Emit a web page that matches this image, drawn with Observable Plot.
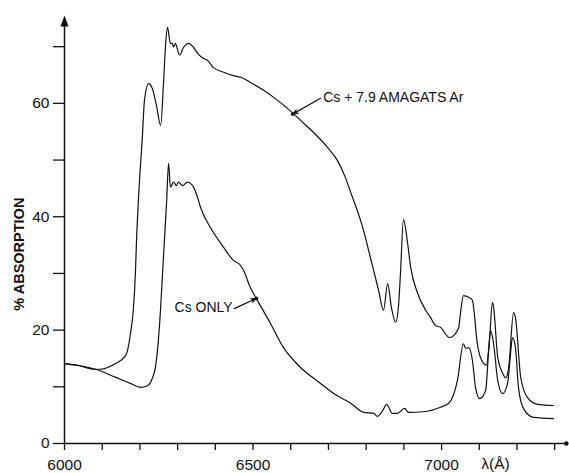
<!DOCTYPE html>
<html>
<head>
<meta charset="utf-8">
<script src="https://cdn.jsdelivr.net/npm/d3@7"></script>
<script src="https://cdn.jsdelivr.net/npm/@observablehq/plot@0.6"></script>
<style>
  html, body { margin: 0; padding: 0; background: #fff; }
  #chart { width: 569px; height: 473px; }
</style>
</head>
<body>
<div id="chart"></div>
<script>
// Cs only (lower curve)
const wavelengthCs = [6000, 6034, 6082, 6135, 6175, 6202, 6220, 6233, 6241, 6249, 6255, 6260, 6265, 6271, 6276, 6281, 6289, 6297, 6302, 6313, 6326, 6340, 6353, 6361, 6387, 6422, 6448, 6467, 6475, 6493, 6512, 6546, 6581, 6626, 6679, 6714, 6759, 6793, 6820, 6830, 6844, 6854, 6870, 6883, 6902, 6912, 6952, 6997, 7019, 7042, 7058, 7064, 7072, 7082, 7090, 7101, 7117, 7125, 7130, 7138, 7149, 7162, 7175, 7183, 7188, 7196, 7204, 7217, 7244, 7297];
const absorptionCs = [14.1, 13.8, 13.1, 11.7, 10.6, 9.9, 10.2, 11.5, 13.4, 18.2, 24.0, 30.0, 35.8, 42.9, 49.4, 45.2, 46.1, 45.5, 46.1, 45.5, 46.1, 45.5, 43.4, 41.6, 38.1, 34.6, 32.3, 31.4, 30.5, 27.5, 25.2, 21.2, 16.9, 13.4, 10.6, 8.8, 7.1, 5.5, 5.3, 4.8, 5.8, 6.9, 5.3, 5.3, 6.2, 5.5, 5.6, 6.4, 7.1, 11.1, 17.6, 16.8, 16.9, 14.6, 9.9, 7.9, 9.4, 16.4, 19.9, 17.6, 11.1, 8.8, 10.6, 15.9, 18.7, 16.9, 9.9, 6.2, 4.6, 4.4];

// Cs + 7.9 amagats Ar (upper curve)
const wavelengthAr = [6000, 6034, 6082, 6095, 6135, 6162, 6167, 6175, 6183, 6188, 6191, 6196, 6207, 6212, 6223, 6233, 6244, 6255, 6263, 6268, 6273, 6281, 6286, 6289, 6294, 6305, 6316, 6329, 6342, 6353, 6369, 6379, 6395, 6422, 6448, 6467, 6475, 6493, 6528, 6554, 6607, 6626, 6660, 6698, 6724, 6745, 6759, 6785, 6793, 6812, 6820, 6833, 6846, 6857, 6867, 6878, 6886, 6891, 6899, 6910, 6918, 6936, 6958, 6971, 6984, 6997, 7021, 7045, 7050, 7058, 7077, 7082, 7095, 7103, 7119, 7127, 7135, 7138, 7149, 7162, 7170, 7178, 7191, 7196, 7210, 7228, 7255, 7297];
const absorptionAr = [14.1, 13.8, 13.1, 13.1, 14.1, 15.5, 16.4, 19.4, 24.0, 30.0, 35.8, 42.9, 54.7, 60.5, 63.5, 62.6, 59.6, 56.1, 64.1, 70.2, 73.4, 70.6, 70.6, 69.9, 70.6, 68.5, 69.9, 70.6, 69.9, 68.8, 67.9, 67.6, 66.3, 65.5, 64.9, 64.6, 64.4, 63.7, 62.3, 61.1, 58.2, 57.0, 54.9, 52.2, 49.9, 46.9, 44.3, 39.4, 37.6, 32.6, 30.5, 27.0, 23.5, 28.2, 24.0, 21.4, 24.4, 30.0, 39.5, 35.3, 31.1, 26.6, 23.5, 22.2, 20.8, 20.5, 18.7, 20.3, 22.9, 26.1, 25.6, 25.2, 17.6, 15.2, 13.8, 18.2, 24.9, 24.0, 15.2, 12.4, 11.6, 13.4, 23.1, 22.2, 11.6, 8.1, 6.9, 6.7];

// Ticks
const xTicks = [6000, 6100, 6200, 6300, 6400, 6500, 6600, 6700, 6800, 6900, 7000, 7100, 7200, 7300];
const xTickLabels = [6000, 6500, 7000];
const yTicks = [0, 10, 20, 30, 40, 50, 60, 70];
const yTickLabels = [0, 20, 40, 60];

// Annotations
const seriesLabels = ["Cs + 7.9 AMAGATS Ar", "Cs ONLY"];
const labelAnchorX = [6686, 6446];
const labelAnchorY = [61.0, 23.9];
const arrowTipX = [6605, 6509];
const arrowTipY = [58.1, 25.6];
const arrowTailX = [6679, 6450];
const arrowTailY = [60.9, 23.8];

const cs = wavelengthCs.map((x, i) => ({x, y: absorptionCs[i]}));
const ar = wavelengthAr.map((x, i) => ({x, y: absorptionAr[i]}));
const notes = seriesLabels.map((t, i) => ({
  text: t, lx: labelAnchorX[i], ly: labelAnchorY[i],
  x1: arrowTailX[i], y1: arrowTailY[i], x2: arrowTipX[i], y2: arrowTipY[i]
}));

const yMax = 75.5, xMax = 7334;

const triangleUp = {
  draw(context, l, r) {
    context.moveTo(0, -l);
    context.lineTo(-r, 0);
    context.lineTo(r, 0);
    context.closePath();
  }
};

const plot = Plot.plot({
  width: 569,
  height: 473,
  marginLeft: 64,
  marginRight: 2,
  marginTop: 15,
  marginBottom: 30,
  style: {fontFamily: "'Liberation Sans', Arial, sans-serif", fontSize: "15.5px", color: "#111", background: "#fff"},
  x: {domain: [6000, xMax]},
  y: {domain: [0, yMax]},
  marks: [
    Plot.axisX({ticks: xTicks, tickFormat: d => xTickLabels.includes(d) ? String(d) : "", tickSize: 7, tickPadding: 8, strokeWidth: 1.3, label: null}),
    Plot.axisY({ticks: yTicks, tickFormat: d => yTickLabels.includes(d) ? String(d) : "", tickSize: 11, tickPadding: 4, strokeWidth: 1.3, label: null}),
    Plot.ruleY([0], {x1: 6000, x2: xMax - 3, stroke: "#111", strokeWidth: 1.5}),
    Plot.dot([0], {x: xMax - 3, y: 0, r: 2.2, fill: "#111", stroke: "none"}),
    Plot.ruleX([6000], {y1: 0, y2: 73.5, stroke: "#111", strokeWidth: 1.5}),
    Plot.vector([0], {x: 6000, y: yMax, length: 11, r: 4, anchor: "end", shape: triangleUp, fill: "#111", stroke: "none"}),
    Plot.line(ar, {x: "x", y: "y", stroke: "#111", strokeWidth: 1.2, curve: "monotone-x"}),
    Plot.line(cs, {x: "x", y: "y", stroke: "#111", strokeWidth: 1.2, curve: "monotone-x"}),
    Plot.arrow(notes, {x1: "x1", y1: "y1", x2: "x2", y2: "y2", stroke: "#111", strokeWidth: 1.2, headLength: 7, headAngle: 40}),
    Plot.dot(notes, {x: "x2", y: "y2", r: 1.8, fill: "#111", stroke: "none"}),
    Plot.text([notes[0]], {x: "lx", y: "ly", text: "text", textAnchor: "start", fontSize: 14, fill: "#111"}),
    Plot.text([notes[1]], {x: "lx", y: "ly", text: "text", textAnchor: "end", fontSize: 14, fill: "#111"}),
    Plot.text(["λ(Å)"], {x: 7143, y: 0, dy: 21, fontSize: 15.5, fill: "#111"}),
    Plot.text(["% ABSORPTION"], {x: 6000, y: 33.4, dx: -45, rotate: -90, fontSize: 14.5, fontWeight: "bold", fill: "#111"})
  ]
});
document.getElementById("chart").appendChild(plot);
</script>
</body>
</html>
